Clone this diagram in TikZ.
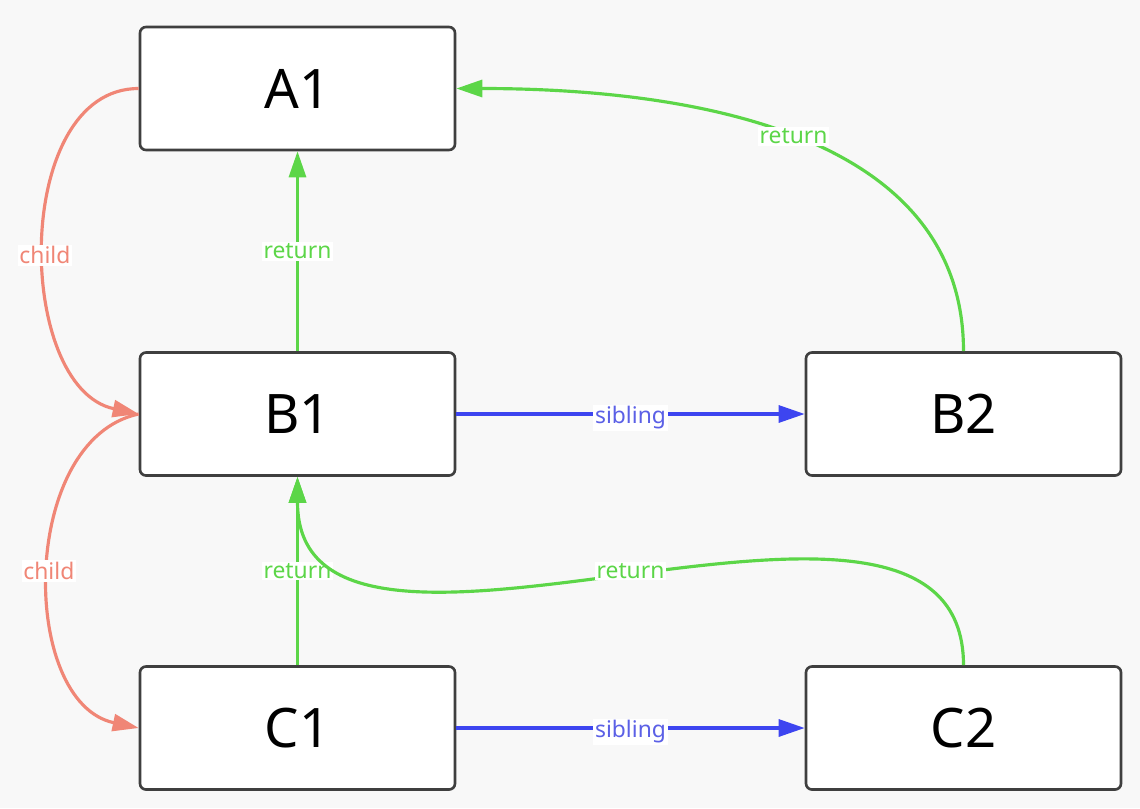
\documentclass[tikz,border=0pt]{standalone}
\usepackage{fontspec}
\setmainfont{Noto Sans}
\usetikzlibrary{arrows.meta}
\definecolor{bgc}{HTML}{F8F8F8}
\definecolor{boxline}{HTML}{3F3F3F}
\definecolor{retc}{HTML}{5CD648}
\definecolor{childc}{HTML}{F08676}
\definecolor{sibc}{HTML}{3D45F0}
\definecolor{sibtxt}{HTML}{5B60E6}
\tikzset{
  box/.style={draw=boxline, fill=white, line width=1.5pt, rounded corners=0.12cm,
    minimum width=6.3cm, minimum height=2.46cm, font=\fontsize{31}{36}\selectfont},
  conn/.style={line width=1.8pt, -{Triangle[length=0.52cm,width=0.34cm]}},
  retline/.style={conn, draw=retc},
  childline/.style={conn, draw=childc},
  sibline/.style={conn, draw=sibc},
  lbl/.style={fill=white, inner sep=1pt, font=\fontsize{13}{15}\selectfont},
  retlbl/.style={lbl, text=retc},
  childlbl/.style={lbl, text=childc},
  siblbl/.style={lbl, text=sibtxt, yshift=-0.08cm},
}
\begin{document}
\begin{tikzpicture}
\fill[bgc] (0,0) rectangle (22.8,-16.16);
\useasboundingbox (0,0) rectangle (22.8,-16.16);
\node[box] (A1) at (5.95,-1.77) {A1};
\node[box] (B1) at (5.95,-8.28) {B1};
\node[box] (B2) at (19.27,-8.28) {B2};
\node[box] (C1) at (5.95,-14.56) {C1};
\node[box] (C2) at (19.27,-14.56) {C2};

\draw[childline] (A1.west) to[out=180,in=168] node[childlbl,pos=0.53] {child} (B1.west);
\draw[childline] (B1.west) to[out=192,in=168] node[childlbl,pos=0.5] {child} (C1.west);

\draw[retline] (B1.north) -- node[retlbl] {return} (A1.south);
\draw[retline] (C1.north) -- node[retlbl] {return} (B1.south);
\draw[retline] (B2.north) to[out=90,in=0] node[retlbl,pos=0.5] {return} (A1.east);
\draw[retline] (C2.north) to[out=90,in=-90,looseness=0.97] node[retlbl,pos=0.5] {return} (B1.south);

\draw[sibline] (B1.east) -- node[siblbl] {sibling} (B2.west);
\draw[sibline] (C1.east) -- node[siblbl] {sibling} (C2.west);
\end{tikzpicture}
\end{document}
